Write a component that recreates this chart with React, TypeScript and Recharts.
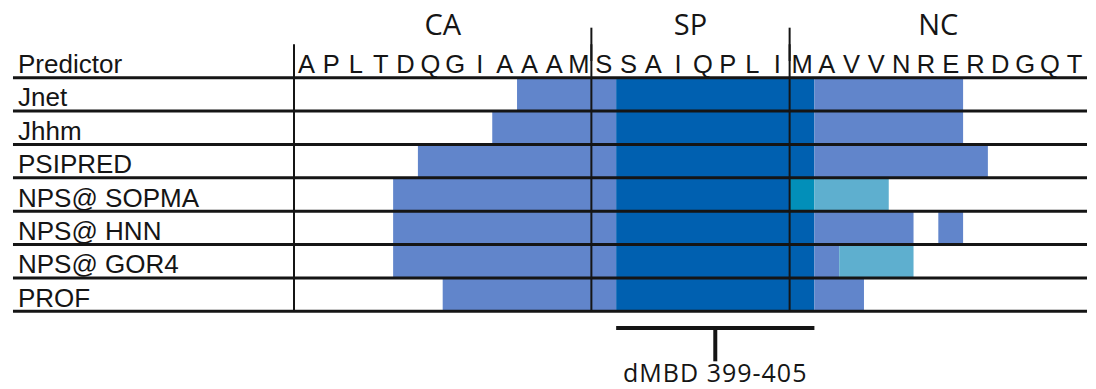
import { Bar, BarChart, Cell, ReferenceArea, ReferenceLine, XAxis, YAxis } from 'recharts';

const residues = ['A', 'P', 'L', 'T', 'D', 'Q', 'G', 'I', 'A', 'A', 'A', 'M', 'S', 'S', 'A', 'I', 'Q', 'P', 'L', 'I', 'M', 'A', 'V', 'V', 'N', 'R', 'E', 'R', 'D', 'G', 'Q', 'T'];
const regions = [
  { name: 'CA', from: 0, to: 12 },
  { name: 'SP', from: 12, to: 20 },
  { name: 'NC', from: 20, to: 32 },
];
const predictors = ['Jnet', 'Jhhm', 'PSIPRED', 'NPS@ SOPMA', 'NPS@ HNN', 'NPS@ GOR4', 'PROF'];

// predicted segments per predictor: [first residue, end residue, kind]
type Seg = [number, number, string];
const jnet: Seg[] = [[9, 13, 'helix'], [13, 21, 'core'], [21, 27, 'helix']];
const jhhm: Seg[] = [[8, 13, 'helix'], [13, 21, 'core'], [21, 27, 'helix']];
const psipred: Seg[] = [[5, 13, 'helix'], [13, 21, 'core'], [21, 28, 'helix']];
const sopma: Seg[] = [[4, 13, 'helix'], [13, 20, 'core'], [20, 21, 'teal'], [21, 24, 'cyan']];
const hnn: Seg[] = [[4, 13, 'helix'], [13, 21, 'core'], [21, 25, 'helix'], [26, 27, 'helix']];
const gor4: Seg[] = [[4, 13, 'helix'], [13, 21, 'core'], [21, 22, 'helix'], [22, 25, 'cyan']];
const prof: Seg[] = [[6, 13, 'helix'], [13, 21, 'core'], [21, 23, 'helix']];
const predictions = [jnet, jhhm, psipred, sopma, hnn, gor4, prof];

const dmbd = { label: 'dMBD 399-405', from: 13, to: 21 };

const colors: Record<string, string> = {
  gap: 'transparent',
  helix: '#6185cb',
  core: '#0060b0',
  teal: '#028fb9',
  cyan: '#5eafcf',
};

const pieceKeys = [0, 1, 2, 3, 4, 5];

function emptyRow(name: string) {
  const row: any = { name, kinds: [] as string[] };
  pieceKeys.forEach((k) => (row['p' + k] = 0));
  return row;
}

const predictorRows = predictors.map((name, r) => {
  const row = emptyRow(name);
  let pos = 0;
  let k = 0;
  for (const [from, to, kind] of predictions[r]) {
    if (from > pos) {
      row['p' + k] = from - pos;
      row.kinds.push('gap');
      k++;
    }
    row['p' + k] = to - from;
    row.kinds.push(kind);
    k++;
    pos = to;
  }
  return row;
});

// header rows above and annotation rows below the table
const rows = [emptyRow('_regions'), emptyRow('Predictor'), ...predictorRows, emptyRow('_bracket'), emptyRow('_caption')];

const arial = "'Liberation Sans', Arial, sans-serif";
const myriad = "'Open Sans', sans-serif";
const ink = '#151515';
const lineLeft = -11.34;
const lineRight = 32;

function RowLabel(props: any) {
  const name = props.payload.value as string;
  if (name.startsWith('_')) return null;
  return (
    <text x={18} y={props.y + 12} fontSize={26} fontFamily={arial} fill={ink}>
      {name}
    </text>
  );
}

export default function App() {
  return (
    <div style={{ position: 'absolute', left: 0, top: 0, background: '#fff' }}>
      <BarChart
        width={1096}
        height={389}
        data={rows}
        layout="vertical"
        barCategoryGap={0}
        barGap={0}
        margin={{ top: 11, right: 9, bottom: 11, left: 0 }}
      >
        <XAxis xAxisId="res" type="number" domain={[0, 32]} allowDataOverflow hide />
        <YAxis yAxisId="cat" type="category" dataKey="name" width={294} axisLine={false} tickLine={false} tick={<RowLabel />} interval={0} />
        {pieceKeys.map((k) => (
          <Bar key={k} dataKey={'p' + k} stackId="s" xAxisId="res" yAxisId="cat" isAnimationActive={false}>
            {rows.map((row, i) => (
              <Cell key={i} fill={colors[row.kinds[k]] ?? 'transparent'} />
            ))}
          </Bar>
        ))}
        {regions.map((reg) => (
          <ReferenceArea
            key={reg.name}
            xAxisId="res"
            yAxisId="cat"
            x1={reg.from}
            x2={reg.to}
            y1="_regions"
            y2="_regions"
            ifOverflow="visible"
            fill="none"
            stroke="none"
            label={{ value: reg.name, position: 'insideBottom', offset: 9, fontSize: 29, fontFamily: myriad, fill: ink }}
          />
        ))}
        {residues.map((res, i) => (
          <ReferenceArea
            key={'r' + i}
            xAxisId="res"
            yAxisId="cat"
            x1={i}
            x2={i + 1}
            y1="Predictor"
            y2="Predictor"
            ifOverflow="visible"
            fill="none"
            stroke="none"
            label={{ value: res, position: 'insideBottom', offset: 5, fontSize: 25.5, fontFamily: arial, fill: ink }}
          />
        ))}
        {[...predictors, '_bracket'].map((name) => (
          <ReferenceLine
            key={'h' + name}
            xAxisId="res"
            yAxisId="cat"
            segment={[{ x: lineLeft, y: name }, { x: lineRight, y: name }]}
            position="start"
            ifOverflow="visible"
            stroke={ink}
            strokeWidth={3}
          />
        ))}
        <ReferenceLine
          xAxisId="res"
          yAxisId="cat"
          segment={[{ x: 0, y: 'Predictor' }, { x: 0, y: '_bracket' }]}
          position="start"
          ifOverflow="visible"
          stroke={ink}
          strokeWidth={2}
        />
        {regions.slice(1).map((reg) => (
          <ReferenceLine
            key={'vt' + reg.name}
            xAxisId="res"
            yAxisId="cat"
            segment={[{ x: reg.from, y: '_regions' }, { x: reg.from, y: 'Predictor' }]}
            position="middle"
            ifOverflow="visible"
            stroke={ink}
            strokeWidth={2}
          />
        ))}
        {regions.slice(1).map((reg) => (
          <ReferenceLine
            key={'vb' + reg.name}
            xAxisId="res"
            yAxisId="cat"
            segment={[{ x: reg.from, y: 'Predictor' }, { x: reg.from, y: '_bracket' }]}
            position="start"
            ifOverflow="visible"
            stroke={ink}
            strokeWidth={2}
          />
        ))}
        <ReferenceLine
          xAxisId="res"
          yAxisId="cat"
          segment={[{ x: dmbd.from, y: '_bracket' }, { x: dmbd.to, y: '_bracket' }]}
          position="middle"
          ifOverflow="visible"
          stroke={ink}
          strokeWidth={4}
        />
        <ReferenceLine
          xAxisId="res"
          yAxisId="cat"
          segment={[{ x: (dmbd.from + dmbd.to) / 2, y: '_bracket' }, { x: (dmbd.from + dmbd.to) / 2, y: '_caption' }]}
          position="middle"
          ifOverflow="visible"
          stroke={ink}
          strokeWidth={4}
          label={{ value: dmbd.label, position: 'bottom', offset: 3, fontSize: 25, letterSpacing: 1, fontFamily: myriad, fill: ink }}
        />
      </BarChart>
    </div>
  );
}
